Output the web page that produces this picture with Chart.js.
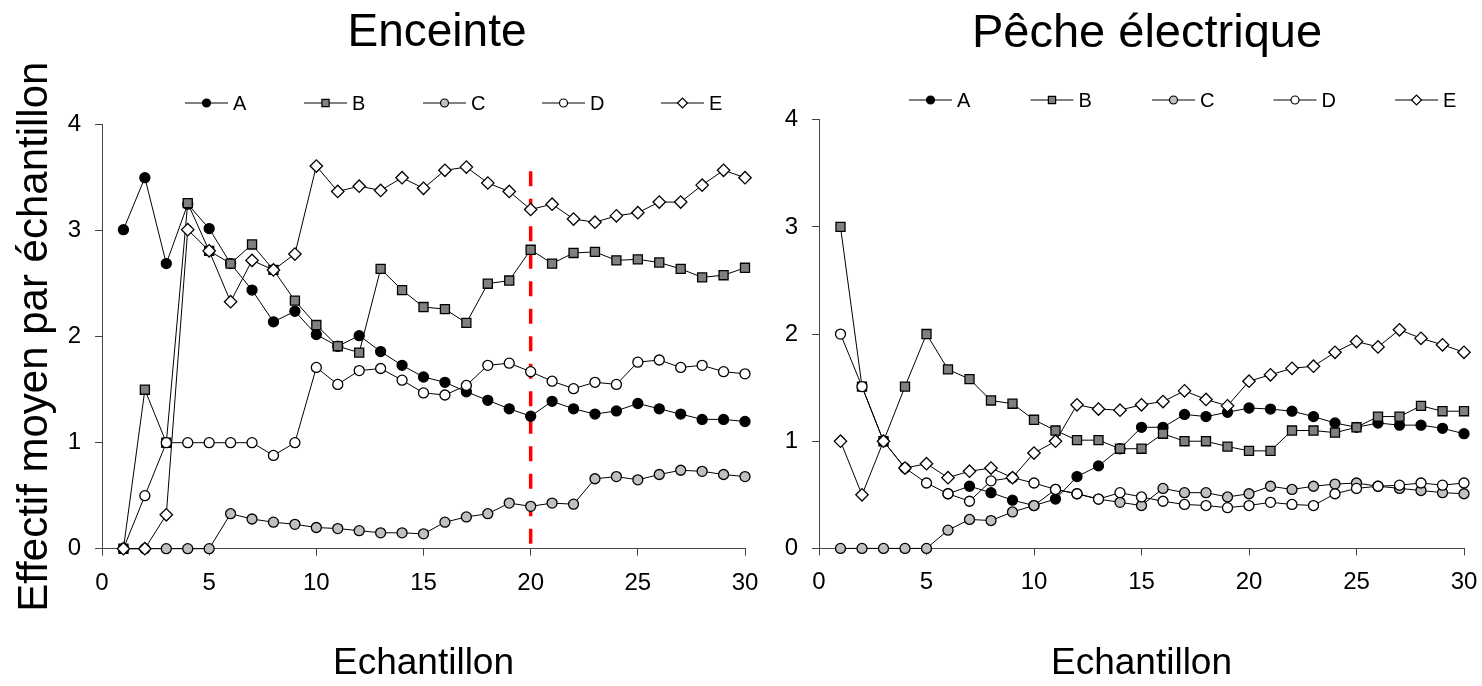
<!DOCTYPE html>
<html>
<head>
<meta charset="utf-8">
<script src="https://cdn.jsdelivr.net/npm/chart.js@4.4.1/dist/chart.umd.min.js"></script>
<style>
  body { margin: 0; background: #fff; }
  .panel { position: absolute; top: 0; }
</style>
</head>
<body>
<div class="panel" style="left:0"><canvas id="enceinte" width="760" height="686"></canvas></div>
<div class="panel" style="left:760px"><canvas id="peche" width="722" height="686"></canvas></div>
<script>
// sample number (x axis)
const samples = [1, 2, 3, 4, 5, 6, 7, 8, 9, 10, 11, 12, 13, 14, 15, 16, 17, 18, 19, 20, 21, 22, 23, 24, 25, 26, 27, 28, 29, 30];
const seriesNames = ['A', 'B', 'C', 'D', 'E'];
const xTicks = [0, 5, 10, 15, 20, 25, 30];
const yTicks = [0, 1, 2, 3, 4];

// Enceinte
const encA = [3.01, 3.50, 2.69, 3.25, 3.02, 2.69, 2.44, 2.14, 2.24, 2.02, 1.91, 2.01, 1.86, 1.73, 1.62, 1.57, 1.48, 1.40, 1.32, 1.25, 1.39, 1.32, 1.27, 1.30, 1.37, 1.32, 1.27, 1.22, 1.22, 1.20];
const encB = [0, 1.50, 1.00, 3.26, 2.81, 2.69, 2.87, 2.63, 2.34, 2.11, 1.91, 1.85, 2.64, 2.44, 2.28, 2.26, 2.13, 2.50, 2.53, 2.82, 2.69, 2.79, 2.80, 2.72, 2.73, 2.70, 2.64, 2.56, 2.58, 2.65];
const encC = [0, 0, 0, 0, 0, 0.33, 0.28, 0.25, 0.23, 0.20, 0.19, 0.17, 0.15, 0.15, 0.14, 0.25, 0.30, 0.33, 0.43, 0.40, 0.43, 0.42, 0.66, 0.68, 0.65, 0.70, 0.74, 0.73, 0.70, 0.68];
const encD = [0, 0.50, 1.00, 1.00, 1.00, 1.00, 1.00, 0.88, 1.00, 1.71, 1.55, 1.68, 1.70, 1.59, 1.47, 1.45, 1.54, 1.73, 1.75, 1.67, 1.58, 1.51, 1.57, 1.55, 1.76, 1.78, 1.71, 1.73, 1.67, 1.65];
const encE = [0, 0, 0.32, 3.01, 2.81, 2.33, 2.72, 2.63, 2.78, 3.61, 3.37, 3.42, 3.38, 3.50, 3.40, 3.57, 3.60, 3.45, 3.37, 3.20, 3.25, 3.11, 3.08, 3.14, 3.17, 3.27, 3.27, 3.43, 3.57, 3.50];
// red dashed marker at sample 20
const cutX = 20;
const cutTop = 3.56;

// Pêche électrique
const pecA = [null, null, null, null, null, 0.51, 0.58, 0.52, 0.45, 0.40, 0.46, 0.67, 0.77, 0.93, 1.13, 1.13, 1.25, 1.23, 1.27, 1.31, 1.30, 1.28, 1.23, 1.17, 1.13, 1.17, 1.15, 1.15, 1.12, 1.07];
const pecB = [3.00, 1.51, 1.00, 1.51, 2.00, 1.67, 1.58, 1.38, 1.35, 1.20, 1.10, 1.01, 1.01, 0.93, 0.93, 1.07, 1.00, 1.00, 0.95, 0.91, 0.91, 1.10, 1.10, 1.08, 1.13, 1.23, 1.23, 1.33, 1.28, 1.28];
const pecC = [0, 0, 0, 0, 0, 0.17, 0.27, 0.26, 0.34, 0.40, 0.55, 0.51, 0.46, 0.43, 0.40, 0.56, 0.52, 0.52, 0.48, 0.51, 0.58, 0.55, 0.58, 0.60, 0.61, 0.58, 0.56, 0.54, 0.52, 0.51];
const pecD = [2.00, 1.51, 1.00, 0.75, 0.61, 0.51, 0.44, 0.63, 0.66, 0.61, 0.55, 0.51, 0.46, 0.52, 0.48, 0.44, 0.41, 0.40, 0.38, 0.40, 0.43, 0.41, 0.40, 0.51, 0.56, 0.58, 0.59, 0.61, 0.59, 0.61];
const pecE = [1.00, 0.50, 1.00, 0.75, 0.79, 0.66, 0.72, 0.75, 0.66, 0.89, 1.00, 1.34, 1.30, 1.29, 1.34, 1.37, 1.47, 1.39, 1.33, 1.56, 1.62, 1.68, 1.70, 1.83, 1.93, 1.88, 2.04, 1.96, 1.90, 1.83];

const FONT = '"Liberation Sans", Arial, sans-serif';
Chart.defaults.font.family = FONT;
Chart.defaults.color = '#000';

// marker look for each series
const markers = [
    { pointStyle: 'circle', pointRadius: 5, pointBackgroundColor: '#000000' },
    { pointStyle: 'rect', pointRadius: 6.4, pointBackgroundColor: '#808080' },
    { pointStyle: 'circle', pointRadius: 5, pointBackgroundColor: '#c0c0c0' },
    { pointStyle: 'circle', pointRadius: 5, pointBackgroundColor: '#ffffff' },
    { pointStyle: 'rectRot', pointRadius: 6.2, pointBackgroundColor: '#ffffff' }
];

// legend drawn as "—marker— label", like the original
const lineLegend = {
    id: 'lineLegend',
    afterDraw(chart, args, opts) {
        const { ctx, chartArea } = chart;
        const items = chart.data.datasets.filter(d => d.label);
        ctx.save();
        items.forEach((d, i) => {
            const x0 = chartArea.left + opts.start + i * opts.step;
            const y = opts.y;
            ctx.strokeStyle = '#000';
            ctx.lineWidth = 1;
            ctx.beginPath();
            ctx.moveTo(x0, y);
            ctx.lineTo(x0 + opts.lineLength, y);
            ctx.stroke();
            ctx.fillStyle = d.pointBackgroundColor;
            ctx.strokeStyle = '#000';
            ctx.lineWidth = 1.2;
            Chart.helpers.drawPoint(ctx, {
                pointStyle: d.pointStyle,
                radius: d.pointRadius * 0.8,
                borderWidth: 1.2,
                rotation: 0
            }, x0 + opts.lineLength / 2, y);
            ctx.fillStyle = '#000';
            ctx.font = '20px "Liberation Sans Narrow", "Arial Narrow", ' + FONT;
            ctx.textBaseline = 'middle';
            ctx.textAlign = 'left';
            ctx.fillText(d.label, x0 + opts.lineLength + 5, y + 1);
        });
        ctx.restore();
    }
};

// move the title block so its centre sits where the original has it
const titleShift = {
    id: 'titleShift',
    afterLayout(chart, args, opts) {
        const t = chart.titleBlock;
        if (!t || opts.centerX == null) return;
        const half = (t.right - t.left) / 2;
        t.left = opts.centerX - half;
        t.right = opts.centerX + half;
    }
};

const buildSeries = (values) => values.map((vals, i) => ({
    label: seriesNames[i],
    data: samples.map((s, k) => ({ x: s, y: vals[k] })),
    borderColor: '#000',
    borderWidth: 1,
    pointBorderColor: '#000',
    pointBorderWidth: 1.3,
    tension: 0,
    clip: false,
    order: 10 - i, // later series drawn on top
    ...markers[i]
}));

const axisColor = '#444';

const makeChart = (canvasId, cfg) => {
    const datasets = buildSeries(cfg.values);
    if (cfg.cut) {
        datasets.push({
            data: [{ x: cfg.cut.x, y: cfg.cut.top }, { x: cfg.cut.x, y: 0 }],
            borderColor: '#ff0000',
            borderWidth: 3.5,
            borderDash: [15, 12.5],
            pointRadius: 0,
            clip: false,
            order: 20
        });
    }
    return new Chart(document.getElementById(canvasId), {
        type: 'line',
        data: { datasets },
        plugins: [lineLegend, titleShift],
        options: {
            responsive: false,
            animation: false,
            layout: { padding: { left: 0, right: cfg.padRight, top: 0, bottom: 0 }, autoPadding: false },
            plugins: {
                legend: { display: false },
                tooltip: { enabled: false },
                title: {
                    display: true,
                    text: cfg.title,
                    font: { size: cfg.titleSize, weight: 'normal' },
                    color: '#000',
                    padding: { top: 6, bottom: cfg.titleGap }
                },
                titleShift: { centerX: cfg.titleX },
                lineLegend: { start: cfg.legendStart, step: cfg.legendStep, y: cfg.legendY, lineLength: 43 }
            },
            scales: {
                x: {
                    type: 'linear',
                    min: xTicks[0],
                    max: xTicks[xTicks.length - 1],
                    afterBuildTicks: s => { s.ticks = xTicks.map(v => ({ value: v })); },
                    ticks: { font: { size: 24 }, color: '#000', padding: 13, maxRotation: 0 },
                    grid: { drawOnChartArea: false, tickLength: 7, color: axisColor },
                    border: { color: axisColor, width: 1 },
                    title: { display: true, text: 'Echantillon', font: { size: 37 }, color: '#000', padding: { top: 0, bottom: 0 } },
                    afterFit: s => {
                        s.height = 686 - cfg.bottomY;
                        // the layout padding already leaves room for the last label
                        s.paddingLeft = 0;
                        s.paddingRight = 0;
                    }
                },
                y: {
                    min: yTicks[0],
                    max: yTicks[yTicks.length - 1],
                    afterBuildTicks: s => { s.ticks = yTicks.map(v => ({ value: v })); },
                    ticks: { font: { size: 24 }, color: '#000', padding: 14 },
                    grid: { drawOnChartArea: false, tickLength: 7, color: axisColor },
                    border: { color: axisColor, width: 1 },
                    title: {
                        display: !!cfg.yTitle,
                        text: cfg.yTitle,
                        font: { size: 42 },
                        color: '#000',
                        padding: { top: 10, bottom: 0 }
                    },
                    afterFit: s => { s.width = cfg.axisX; }
                }
            }
        }
    });
};

makeChart('enceinte', {
    title: 'Enceinte',
    titleSize: 46,
    values: [encA, encB, encC, encD, encE],
    cut: { x: cutX, top: cutTop },
    yTitle: 'Effectif moyen par échantillon',
    axisX: 102,
    padRight: 15,
    bottomY: 548.7,
    titleGap: 63.5,
    titleX: 437,
    legendStart: 83,
    legendStep: 119,
    legendY: 103
});

makeChart('peche', {
    title: 'Pêche électrique',
    titleSize: 47,
    values: [pecA, pecB, pecC, pecD, pecE],
    yTitle: '',
    axisX: 59,
    padRight: 18,
    bottomY: 548.4,
    titleGap: 57.3,
    titleX: 387,
    legendStart: 90,
    legendStep: 121.5,
    legendY: 100
});
</script>
</body>
</html>
